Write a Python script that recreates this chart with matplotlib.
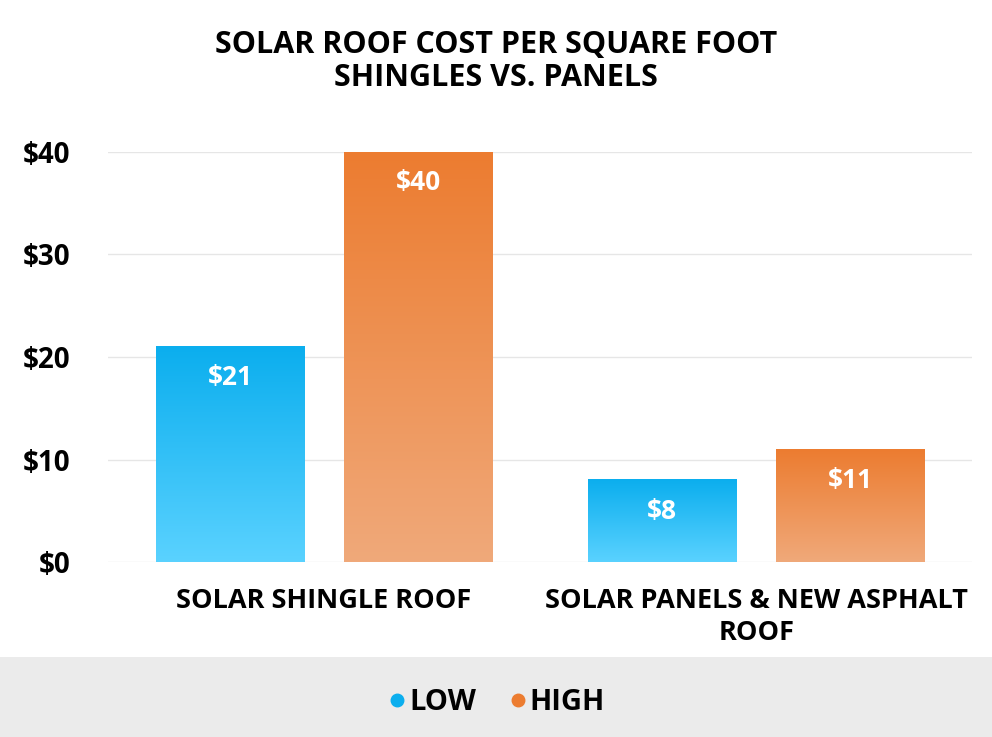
import numpy as np
import matplotlib
matplotlib.use("Agg")
import matplotlib.pyplot as plt
from matplotlib.colors import LinearSegmentedColormap
from matplotlib.lines import Line2D
from matplotlib.patches import Rectangle

# data
categories = ["SOLAR SHINGLE ROOF", "SOLAR PANELS & NEW ASPHALT\nROOF"]
low_values = [21, 8]
high_values = [40, 11]
series_names = ["LOW", "HIGH"]
y_ticks = [0, 10, 20, 30, 40]
y_tick_labels = ["$0", "$10", "$20", "$30", "$40"]

plt.rcParams["font.family"] = ["Open Sans", "DejaVu Sans"]

BLUE_TOP, BLUE_BOTTOM = "#0BAEEE", "#5AD2FF"
ORANGE_TOP, ORANGE_BOTTOM = "#EC7C30", "#F0A97A"

fig = plt.figure(figsize=(9.92, 7.37), dpi=100)
ax = fig.add_axes([0.1089, 0.2374, 0.8711, 0.5564])

# grey legend band
fig.patches.append(Rectangle((0, 0), 1, 80 / 737, transform=fig.transFigure,
                             facecolor="#EBEBEB", edgecolor="none", zorder=0))

x = np.arange(len(categories))
width = 0.343
offset = 0.2176
low_bars = ax.bar(x - offset, low_values, width, color="none", zorder=2)
high_bars = ax.bar(x + offset, high_values, width, color="none", zorder=2)

grad = np.linspace(0, 1, 256).reshape(-1, 1)
for bars, top, bottom in [(low_bars, BLUE_TOP, BLUE_BOTTOM),
                          (high_bars, ORANGE_TOP, ORANGE_BOTTOM)]:
    cmap = LinearSegmentedColormap.from_list("g", [bottom, top])
    for b in bars:
        x0, y0 = b.get_x(), b.get_y()
        ax.imshow(grad, cmap=cmap, origin="lower", aspect="auto",
                  extent=[x0, x0 + b.get_width(), y0, y0 + b.get_height()],
                  zorder=2, interpolation="bilinear")
        ax.annotate(f"${b.get_height():.0f}", (x0 + b.get_width() / 2, y0 + b.get_height()),
                    xytext=(0, -31), textcoords="offset pixels", ha="center", va="center",
                    color="white", fontsize=19, fontweight="bold", zorder=3)

ax.set_xlim(-0.5, 1.5)
ax.set_ylim(0, 40)
ax.set_yticks(y_ticks)
ax.set_yticklabels(y_tick_labels, fontsize=20, fontweight="bold")
ax.set_xticks(x)
ax.set_xticklabels(categories, fontsize=19.5, fontweight="bold", linespacing=1.3)
ax.tick_params(axis="y", length=0, pad=27)
ax.tick_params(axis="x", length=0, pad=19)
for lab in ax.get_xticklabels():
    lab.set_va("top")
ax.yaxis.grid(True, color="#E6E6E6", linewidth=1)
ax.set_axisbelow(True)
for s in ax.spines.values():
    s.set_visible(False)

fig.text(0.5, 1 - 45 / 737, "SOLAR ROOF COST PER SQUARE FOOT", ha="center", va="center",
         fontsize=22, fontweight="bold")
fig.text(0.5, 1 - 78 / 737, "SHINGLES VS. PANELS", ha="center", va="center",
         fontsize=22, fontweight="bold")

handles = [Line2D([], [], marker="o", linestyle="none", markersize=9, color=BLUE_TOP),
           Line2D([], [], marker="o", linestyle="none", markersize=9, color=ORANGE_TOP)]
fig.legend(handles, series_names, loc="center", bbox_to_anchor=(0.5, 34 / 737), ncol=2,
           frameon=False, handletextpad=0.05, columnspacing=1.1, handlelength=0.7,
           prop={"size": 21, "weight": "bold"})

fig.savefig("out.png", dpi=100)
